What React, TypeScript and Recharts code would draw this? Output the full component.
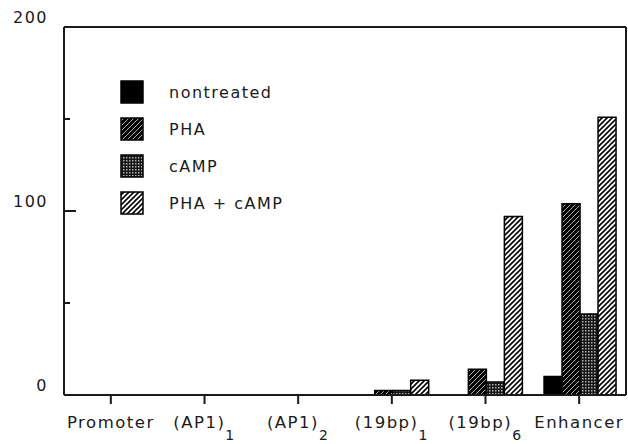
import { BarChart, Bar, XAxis, YAxis, Legend, ReferenceLine } from "recharts"

// values (relative activity)
const categories = ["Promoter", "(AP1)_1", "(AP1)_2", "(19bp)_1", "(19bp)_6", "Enhancer"]
const nontreated = [0, 0, 0, 0, 0, 10]
const pha = [0, 0, 0, 2.5, 14, 104]
const camp = [0, 0, 0, 2.5, 7, 44]
const phaCamp = [0, 0, 0, 8, 97, 151]
const seriesNames = ["nontreated", "PHA", "cAMP", "PHA + cAMP"]
const yTicks = [0, 50, 100, 150, 200]
const yLabels = [0, 100, 200]

const data = categories.map((c, i) => ({
  name: c,
  nontreated: nontreated[i],
  pha: pha[i],
  camp: camp[i],
  phaCamp: phaCamp[i],
}))

const FONT = "'DejaVu Sans', sans-serif"
const INK = "#1a1a1a"

function LeftTick({ x, y, payload }: any) {
  const v = payload.value
  const len = v === 100 ? 12 : v === 200 || v === 0 ? 0 : 6
  return (
    <g>
      {len > 0 && <line x1={x} x2={x + len} y1={y} y2={y} stroke={INK} strokeWidth={2} />}
      {yLabels.includes(v) && (
        <text x={x - 16} y={y - 10} dy="0.36em" textAnchor="end" fontSize={16} fontFamily={FONT}
          letterSpacing={1.5} fill={INK}>{v}</text>
      )}
    </g>
  )
}

function RightTick({ x, y, payload }: any) {
  const v = payload.value
  const len = v === 100 ? 10 : v === 200 || v === 0 ? 0 : 6
  if (!len) return null
  return <line x1={x} x2={x - len} y1={y} y2={y} stroke={INK} strokeWidth={2} />
}

function CatTick({ x, y, payload }: any) {
  const [main, sub] = String(payload.value).split("_")
  return (
    <text x={x} y={y + 22} textAnchor="middle" fontSize={16.5} fontFamily={FONT} letterSpacing={1.5} fill={INK}>
      {main}
      {sub && <tspan fontSize={14} dy={12}>{sub}</tspan>}
    </text>
  )
}

function LegendBox({ payload }: any) {
  const items = [...(payload ?? [])].sort((a: any, b: any) => seriesNames.indexOf(a.value) - seriesNames.indexOf(b.value))
  return (
    <div style={{ fontFamily: FONT, fontSize: 16, letterSpacing: 1.5, color: INK }}>
      {items.map((p: any) => (
        <div key={p.value} style={{ display: "flex", alignItems: "center", height: 24, marginBottom: 13 }}>
          <svg width={24} height={24} style={{ display: "block" }}>
            <rect x={1} y={1} width={22} height={22} fill={p.color} stroke="#000" strokeWidth={1.5} />
          </svg>
          <span style={{ marginLeft: 25 }}>{p.value}</span>
        </div>
      ))}
    </div>
  )
}

export default function App() {
  return (
    <div style={{ position: "absolute", left: 0, top: 0, background: "#fff" }}>
      <BarChart width={628} height={444} data={data} margin={{ top: 27, right: 1, left: 0, bottom: 0 }}
        barCategoryGap="12.5%" barGap={0}>
        <defs>
          <pattern id="hatchDark" width={5} height={5} patternUnits="userSpaceOnUse">
            <rect width={5} height={5} fill="#000" />
            <path d="M-1,1 l2,-2 M0,5 l5,-5 M4,6 l2,-2" stroke="#ddd" strokeWidth={0.8} />
          </pattern>
          <pattern id="stipple" width={3} height={3} patternUnits="userSpaceOnUse">
            <rect width={3} height={3} fill="#151515" />
            <rect width={1.5} height={1.5} fill="#b0b0b0" />
          </pattern>
          <pattern id="hatchLight" width={5} height={5} patternUnits="userSpaceOnUse">
            <rect width={5} height={5} fill="#fff" />
            <path d="M-1,1 l2,-2 M0,5 l5,-5 M4,6 l2,-2" stroke="#000" strokeWidth={1.6} />
          </pattern>
        </defs>
        <XAxis dataKey="name" height={49} interval={0} tickSize={9} tickMargin={2}
          axisLine={{ stroke: INK, strokeWidth: 2 }} tickLine={{ stroke: INK, strokeWidth: 2 }} tick={<CatTick />} />
        <YAxis yAxisId="l" domain={[0, 200]} ticks={yTicks} width={64} tickSize={0} tickMargin={0}
          axisLine={{ stroke: INK, strokeWidth: 2 }} tickLine={false} tick={<LeftTick />} />
        <YAxis yAxisId="r" orientation="right" domain={[0, 200]} ticks={yTicks} width={1} tickSize={0} tickMargin={0}
          axisLine={{ stroke: INK, strokeWidth: 2 }} tickLine={false} tick={<RightTick />} />
        <ReferenceLine yAxisId="l" y={200} stroke={INK} strokeWidth={2} />
        <Legend layout="horizontal" verticalAlign="middle" align="center" content={<LegendBox />}
          wrapperStyle={{ left: 120, top: 80, width: "auto", height: "auto" }} />
        <Bar yAxisId="l" dataKey="nontreated" name="nontreated" fill="#000" stroke="#000" strokeWidth={1.5} isAnimationActive={false} />
        <Bar yAxisId="l" dataKey="pha" name="PHA" fill="url(#hatchDark)" stroke="#000" strokeWidth={1.5} isAnimationActive={false} />
        <Bar yAxisId="l" dataKey="camp" name="cAMP" fill="url(#stipple)" stroke="#000" strokeWidth={1.5} isAnimationActive={false} />
        <Bar yAxisId="l" dataKey="phaCamp" name="PHA + cAMP" fill="url(#hatchLight)" stroke="#000" strokeWidth={1.5} isAnimationActive={false} />
      </BarChart>
    </div>
  )
}
